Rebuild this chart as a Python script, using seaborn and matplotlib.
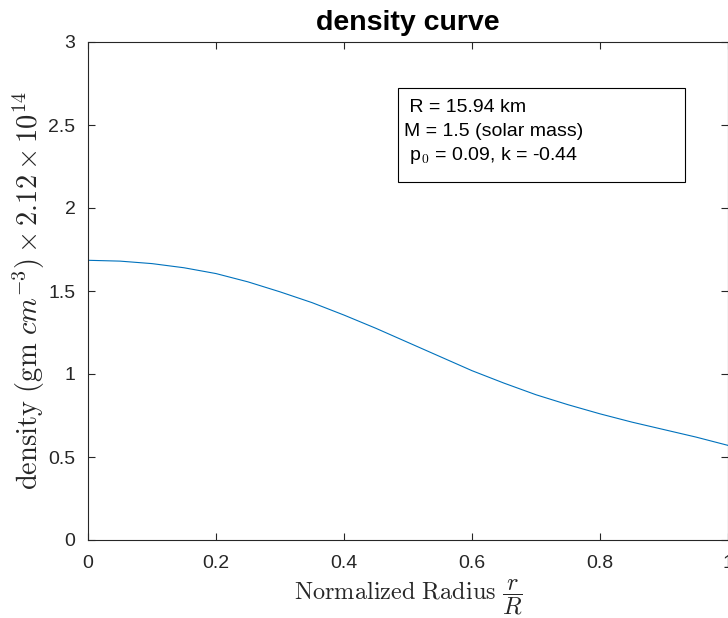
import matplotlib
matplotlib.use("Agg")
import matplotlib.pyplot as plt
from matplotlib.patches import Rectangle
import seaborn as sns
import pandas as pd

radius = [0.0, 0.05, 0.1, 0.15, 0.2, 0.25, 0.3, 0.35, 0.4, 0.45, 0.5,
          0.55, 0.6, 0.65, 0.7, 0.75, 0.8, 0.85, 0.9, 0.95, 1.0]
density = [1.685, 1.680, 1.665, 1.640, 1.605, 1.555, 1.495, 1.430, 1.355, 1.275, 1.190,
           1.105, 1.020, 0.945, 0.875, 0.815, 0.760, 0.710, 0.665, 0.620, 0.570]
x_ticks = [0, 0.2, 0.4, 0.6, 0.8, 1.0]
x_ticklabels = ["0", "0.2", "0.4", "0.6", "0.8", "1"]
y_ticks = [0, 0.5, 1, 1.5, 2, 2.5, 3]
y_ticklabels = ["0", "0.5", "1", "1.5", "2", "2.5", "3"]
info_lines = [" R = 15.94 km", "M = 1.5 (solar mass)", r" p$_0$ = 0.09, k = -0.44"]

sns.set_style("white")
plt.rcParams["font.family"] = ["Liberation Sans", "DejaVu Sans"]
plt.rcParams["mathtext.fontset"] = "cm"

df = pd.DataFrame({"r": radius, "density": density})

fig = plt.figure(figsize=(7.28, 6.18), dpi=100)
ax = fig.add_axes([88 / 728, 78 / 618, 640 / 728, 498 / 618])
sns.lineplot(data=df, x="r", y="density", ax=ax, color="#0072BD", linewidth=0.8)

ax.set_xlim(0, 1)
ax.set_ylim(0, 3)
ax.set_xticks(x_ticks)
ax.set_xticklabels(x_ticklabels)
ax.set_yticks(y_ticks)
ax.set_yticklabels(y_ticklabels)
ax.tick_params(direction="in", length=5, width=0.8, color="#262626",
               labelcolor="#262626", labelsize=14, top=True, right=True,
               bottom=True, left=True, pad=9)
ax.tick_params(axis="x", pad=11)
for s in ax.spines.values():
    s.set_visible(True)
    s.set_color("#262626")
    s.set_linewidth(0.8)

ax.set_title("density curve", fontsize=20.5, fontweight="bold", pad=9, color="black")
ax.set_xlabel(r"$\mathrm{Normalized\ Radius}\ \dfrac{r}{R}$", fontsize=17.5, color="#262626", labelpad=4)
ax.set_ylabel(r"$\mathrm{density}\ (\mathrm{gm}\ cm^{-3}) \times 2.12 \times 10^{14}$",
              fontsize=20.5, color="#262626", labelpad=1)

# fixed-size text box (figure pixel coords converted to axes fraction)
bx0, bx1 = (398 - 88) / 640, (685 - 88) / 640
by0, by1 = (540 - 182) / 498, (540 - 88) / 498
ax.add_patch(Rectangle((bx0, by0), bx1 - bx0, by1 - by0, transform=ax.transAxes,
                       facecolor="white", edgecolor="black", linewidth=0.8, zorder=3))
line_y = [107, 131, 155]
for txt, yp in zip(info_lines, line_y):
    ax.text((404 - 88) / 640, (540 - yp) / 498, txt, transform=ax.transAxes,
            fontsize=14, va="center", ha="left", color="black", zorder=4)

fig.savefig("out.png", dpi=100)
